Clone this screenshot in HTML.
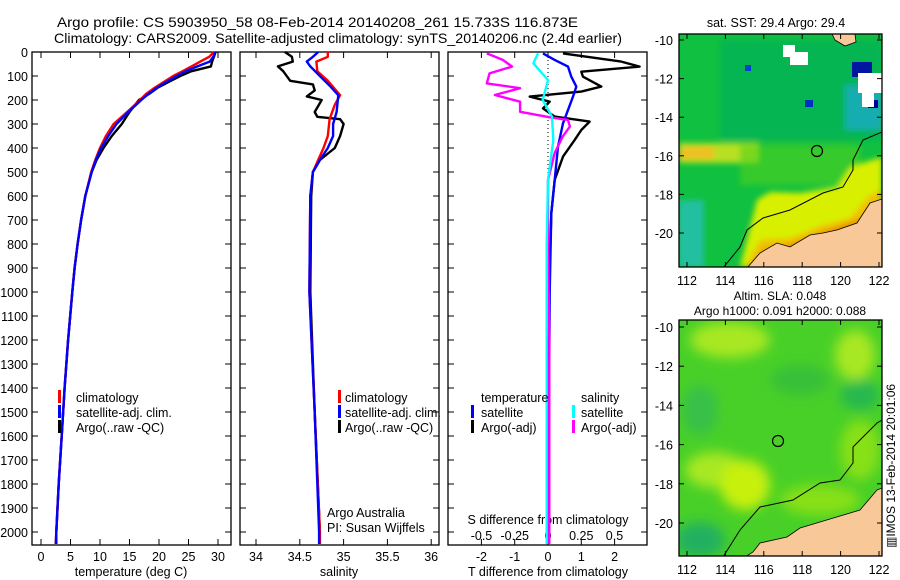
<!DOCTYPE html>
<html><head><meta charset="utf-8"><style>
html,body{margin:0;padding:0;background:#fff;}
svg{display:block;font-family:"Liberation Sans",sans-serif;}
</style></head><body>
<svg id="c" width="900" height="580" viewBox="0 0 900 580" xmlns="http://www.w3.org/2000/svg">
<text x="57" y="27" font-size="14" textLength="521" lengthAdjust="spacingAndGlyphs">Argo profile: CS 5903950_58 08-Feb-2014 20140208_261 15.733S 116.873E</text>
<text x="54" y="43" font-size="14" textLength="568" lengthAdjust="spacingAndGlyphs">Climatology: CARS2009. Satellite-adjusted climatology: synTS_20140206.nc (2.4d earlier)</text>
<text x="776" y="27" font-size="12.5" text-anchor="middle">sat. SST: 29.4  Argo: 29.4</text>
<text x="780" y="300" font-size="12" text-anchor="middle">Altim. SLA: 0.048</text>
<text x="780" y="315" font-size="12" text-anchor="middle">Argo h1000: 0.091 h2000: 0.088</text>
<text transform="translate(895,548) rotate(-90)" font-size="12">▥IMOS 13-Feb-2014 20:01:06</text>
<g id="maps"></g>
<g id="plots"></g>
</svg>
<script>
// ---- data ----
const depthTicks = [0,100,200,300,400,500,600,700,800,900,1000,1100,1200,1300,1400,1500,1600,1700,1800,1900,2000];
const tempTicks = [0,5,10,15,20,25,30];
const salTicks = [34,34.5,35,35.5,36];
const tdiffTicks = [-2,-1,0,1,2];
const sdiffTicks = [-0.5,-0.25,0,0.25,0.5];
const sdiffTickLabels = ["-0.5","-0.25","0","0.25","0.5"];

const tDepth = [0,20,40,60,80,100,125,150,175,200,250,300,350,400,450,500,600,700,800,900,1000,1200,1400,1600,1800,2000,2050];
const tempClim = [29.3,28.5,27,25.5,24,22.4,20.8,19.2,17.8,16.8,14.6,12.3,11.0,10.0,9.2,8.5,7.5,6.8,6.2,5.7,5.3,4.6,4.0,3.5,3.0,2.6,2.5];
const tempSat = [29.5,29.2,28.6,26.5,24.5,23,21.2,19.6,18.2,17,14.8,12.8,11.4,10.2,9.3,8.6,7.5,6.8,6.2,5.7,5.3,4.6,4.0,3.5,3.0,2.6,2.5];
const tempArgo = [29.6,29.3,29.0,28.8,25.5,23.6,21.6,19.7,18.3,16.6,15.0,13.7,12.0,10.6,9.4,8.6,7.5,6.8,6.2,5.7,5.3,4.6,4.0,3.5,3.0,2.6,2.6];

const sArgoDepth = [0,20,40,60,80,120,135,160,185,200,250,270,280,300,350,400,450,500,600,1000,1500,2000];
const salArgo = [34.33,34.41,34.42,34.25,34.31,34.39,34.65,34.67,34.58,34.75,34.67,34.70,34.96,35.0,34.96,34.9,34.73,34.65,34.63,34.62,34.67,34.73];
const sClimDepth = [0,20,40,80,120,180,220,280,350,400,450,500,600,1000,1500,2000,2050];
const salClim = [34.82,34.82,34.69,34.70,34.82,34.96,34.9,34.84,34.82,34.77,34.71,34.65,34.62,34.61,34.67,34.73,34.73];
const sSatDepth = [0,20,40,60,100,140,180,250,300,350,400,450,500,600,1000,1500,2000,2050];
const salSat = [34.71,34.65,34.58,34.62,34.73,34.84,34.94,34.92,34.88,34.88,34.82,34.73,34.65,34.62,34.61,34.67,34.72,34.72];

const tdArgoDepth = [6,40,61,82,103,144,165,186,207,235,269,290,325,367,436,533,672,900,1200,1600,2000];
const tdiffArgo = [0.45,2.2,2.75,1.0,1.05,1.6,1.0,-0.55,0.05,-0.15,0.2,1.25,1.0,0.8,0.45,0.2,0.1,0.05,0.02,0.0,-0.02];
const tdSatDepth = [6,33,61,103,144,186,242,297,394,533,672,1000,1500,2050];
const tdiffSat = [-0.15,0.2,0.6,0.7,0.85,0.75,0.6,0.45,0.3,0.2,0.1,0.05,0.03,0.02];
const sdArgoDepth = [6,33,61,89,131,151,179,207,249,272,283,311,353,422,533,800,1200,1600,2050];
const sdiffArgo = [-0.46,-0.34,-0.27,-0.44,-0.46,-0.21,-0.4,-0.21,-0.21,0.015,0.15,0.165,0.11,0.05,0.0,0.0,0.01,0.01,0.01];
const sdSatDepth = [6,47,117,200,269,367,533,800,1200,1600,2050];
const sdiffSat = [-0.075,-0.11,0.0,-0.04,0.03,0.04,0.0,-0.01,-0.01,-0.01,-0.01];

const mapLonTicks = [112,114,116,118,120,122];
const mapLatTicks = [-10,-12,-14,-16,-18,-20];

// ---- helpers ----
const NS = "http://www.w3.org/2000/svg";
const plots = document.getElementById('plots');
const maps = document.getElementById('maps');
function mk(tag, attrs, parent){ const e=document.createElementNS(NS,tag); for(const k in attrs) e.setAttribute(k,attrs[k]); (parent||plots).appendChild(e); return e; }
const yD = d => 52 + d*0.24;
const PT = 52, PB = 545;

function panel(x0,x1,name){
  const r = mk('rect',{x:x0,y:PT,width:x1-x0,height:PB-PT,fill:'none',stroke:'#000','stroke-width':1.3});
  
  
  depthTicks.forEach(d=>{
    const y=yD(d);
    const t1=mk('line',{x1:x0,x2:x0+6,y1:y,y2:y,stroke:'#000'});
    
    
    const t2=mk('line',{x1:x1-6,x2:x1,y1:y,y2:y,stroke:'#000'});
    
    
  });
}
function xticks(vals,sx,name,labels,ly){
  vals.forEach((v,i)=>{
    const x=sx(v);
    const a=mk('line',{x1:x,x2:x,y1:PT,y2:PT+6,stroke:'#000'});
    
    
    const b=mk('line',{x1:x,x2:x,y1:PB-6,y2:PB,stroke:'#000'});
    
    
    if(labels){
      const t=mk('text',{x:x,y:ly,'font-size':12.5,'text-anchor':'middle'});
      t.textContent=labels[i];
      
      
    }
  });
}
function line(vals,depths,sx,color,name,w){
  const pts=vals.map((v,i)=>sx(v).toFixed(1)+','+yD(depths[i]).toFixed(1)).join(' ');
  const p=mk('polyline',{points:pts,fill:'none',stroke:color,'stroke-width':w||2.4,'stroke-linejoin':'round'});
  
  
}
function txt(x,y,s,name,anchor,size){
  const t=mk('text',{x:x,y:y,'font-size':size||12.5,'text-anchor':anchor||'start'});
  t.textContent=s;
  
  
  return t;
}
function bar(x,y,color,name){
  const r=mk('rect',{x:x,y:y-10,width:3,height:13,fill:color});
  
  
}

depthTicks.forEach(d=>{
  const t=mk('text',{x:28,y:yD(d)+5,'font-size':12.5,'text-anchor':'end'});
  t.textContent=String(d);
  
  
});

// Panel 1: temperature
const sxT = v => 41 + v*5.9;
panel(32,231,'temperature-panel');
xticks(tempTicks,sxT,'temperature',tempTicks.map(String),561);
txt(131,576,'temperature (deg C)','temperature-axis-title','middle');
line(tempArgo,tDepth,sxT,'#000','temp-argo-line');
line(tempClim,tDepth,sxT,'#ff0000','temp-climatology-line');
line(tempSat,tDepth,sxT,'#0000ff','temp-satellite-line');
bar(58,400,'#ff0000','legend-climatology-swatch'); txt(76,402,'climatology','legend-climatology');
bar(58,415,'#0000ff','legend-satellite-swatch'); txt(76,417,'satellite-adj. clim.','legend-satellite');
bar(58,430,'#000','legend-argo-swatch'); txt(76,432,'Argo(..raw -QC)','legend-argo');

// Panel 2: salinity
const sxS = v => 256 + (v-34)*87.6;
panel(240,439,'salinity-panel');
xticks(salTicks,sxS,'salinity',salTicks.map(String),561);
txt(339,576,'salinity','salinity-axis-title','middle');
line(salArgo,sArgoDepth,sxS,'#000','sal-argo-line');
line(salClim,sClimDepth,sxS,'#ff0000','sal-climatology-line');
line(salSat,sSatDepth,sxS,'#0000ff','sal-satellite-line');
bar(338,400,'#ff0000','legend2-climatology-swatch'); txt(345,402,'climatology','legend2-climatology');
bar(338,415,'#0000ff','legend2-satellite-swatch'); txt(345,417,'satellite-adj. clim.','legend2-satellite');
bar(338,430,'#000','legend2-argo-swatch'); txt(345,432,'Argo(..raw -QC)','legend2-argo');
txt(327,517,'Argo Australia','argo-australia-label');
txt(327,532,'PI: Susan Wijffels','pi-label');

// Panel 3: differences
const sxTd = v => 548 + v*33.3;
const sxSd = v => 548 + v*133;
panel(448,647,'difference-panel');
xticks(tdiffTicks,sxTd,'tdiff',tdiffTicks.map(String),561);
sdiffTicks.forEach((v,i)=>{ txt(sxSd(v),540,sdiffTickLabels[i],'sdiff-tick-label','middle'); });
txt(548,524,'S difference from climatology','sdiff-axis-title','middle');
txt(548,576,'T difference from climatology','tdiff-axis-title','middle');
const zl=mk('line',{x1:548,x2:548,y1:PT,y2:PB,stroke:'#000','stroke-dasharray':'1,3'});


line(tdiffArgo,tdArgoDepth,sxTd,'#000','tdiff-argo-line');
line(tdiffSat,tdSatDepth,sxTd,'#0000ff','tdiff-satellite-line');
line(sdiffArgo,sdArgoDepth,sxSd,'#ff00ff','sdiff-argo-line');
line(sdiffSat,sdSatDepth,sxSd,'#00ffff','sdiff-satellite-line');
txt(481,402,'temperature','legend3-temperature-header');
bar(471,415,'#0000ff','legend3-tsat-swatch'); txt(481,417,'satellite','legend3-tsat');
bar(471,430,'#000','legend3-targo-swatch'); txt(481,432,'Argo(-adj)','legend3-targo');
txt(581,402,'salinity','legend3-salinity-header');
bar(572,415,'#00ffff','legend3-ssat-swatch'); txt(581,417,'satellite','legend3-ssat');
bar(572,430,'#ff00ff','legend3-sargo-swatch'); txt(581,432,'Argo(-adj)','legend3-sargo');

// ---- maps ----
function mapAxes(y0,y1,lat0y,latStep,name){
  const L=679,R=882;
  const sx = lon => 687 + (lon-112)*19.2;
  const sy = lat => lat0y + (-10-lat)*latStep;
  const fr=mk('rect',{x:L,y:y0,width:R-L,height:y1-y0,fill:'none',stroke:'#000','stroke-width':1.3},maps);
  
  
  mapLonTicks.forEach(v=>{
    const x=sx(v);
    const t=mk('text',{x:x,y:y1+18,'font-size':12.5,'text-anchor':'middle'},maps);
    t.textContent=String(v);
    
    
    mk('line',{x1:x,x2:x,y1:y1,y2:y1-5,stroke:'#000'},maps);
    mk('line',{x1:x,x2:x,y1:y0,y2:y0+5,stroke:'#000'},maps);
  });
  mapLatTicks.forEach(v=>{
    const y=sy(v);
    const t=mk('text',{x:673,y:y+5,'font-size':12.5,'text-anchor':'end'},maps);
    t.textContent=String(v);
    
    
    mk('line',{x1:L,x2:L+5,y1:y,y2:y,stroke:'#000'},maps);
    mk('line',{x1:R-5,x2:R,y1:y,y2:y,stroke:'#000'},maps);
  });
}
const defs=mk('defs',{},maps);
defs.innerHTML='<filter id="bl" x="-20%" y="-20%" width="140%" height="140%"><feGaussianBlur stdDeviation="6"/></filter><filter id="bl2"><feGaussianBlur stdDeviation="3"/></filter><clipPath id="m1"><rect x="679" y="34" width="203" height="233"/></clipPath><clipPath id="m2"><rect x="679" y="320" width="203" height="236"/></clipPath>';

// Map 1: SST
const g1=mk('g',{'clip-path':'url(#m1)'},maps);


g1.innerHTML=`
<rect x="679" y="34" width="203" height="233" fill="#10c040"/>
<g filter="url(#bl2)">
<rect x="720" y="40" width="162" height="100" fill="#08b058" opacity="0.7"/>
<rect x="679" y="200" width="25" height="67" fill="#20c0a0"/>
<rect x="679" y="143" width="80" height="20" fill="#b8e020"/>
<rect x="679" y="147" width="35" height="12" fill="#f0c020"/>
<rect x="740" y="145" width="120" height="40" fill="#50d020" opacity="0.6"/>
<polygon points="740,267 757,200 770,192 800,193 837,187 850,167 882,157 882,267" fill="#d8f000"/>
<polygon points="745,267 760,240 790,238 823,225 850,218 870,195 882,190 882,267" fill="#f0c000"/>
<polygon points="750,267 765,250 790,245 823,232 860,220 882,205 882,267" fill="#e08000"/>
<rect x="845" y="85" width="37" height="45" fill="#20a8d8" opacity="0.7"/>
</g>
<rect x="852" y="62" width="20" height="15" fill="#0018a0"/>
<rect x="868" y="100" width="10" height="8" fill="#000090"/>
<rect x="805" y="100" width="8" height="7" fill="#0030c0"/>
<rect x="745" y="65" width="6" height="6" fill="#0040d0"/>
<rect x="783" y="45" width="12" height="12" fill="#fff"/>
<rect x="790" y="52" width="18" height="13" fill="#fff"/>
<rect x="858" y="73" width="24" height="20" fill="#fff"/>
<rect x="862" y="93" width="12" height="14" fill="#fff"/>
<polygon points="832,34 855,34 856,42 845,46 835,40" fill="#f8c898" stroke="#000" stroke-width="0.8"/>
<polygon points="747,268 760,253 777,243 790,247 810,235 823,233 837,230 857,223 870,203 882,199 882,268" fill="#f8c898" stroke="#000" stroke-width="0.8"/>
<polyline points="723,268 740,247 747,230 763,218 790,210 823,193 843,187 853,170 853,160 863,140 882,132" fill="none" stroke="#000" stroke-width="1"/>
<circle cx="817" cy="151" r="5.5" fill="none" stroke="#000" stroke-width="1.2"/>`;
mapAxes(34,267,40,19.3,'sst-map');

// Map 2: SLA
const g2=mk('g',{'clip-path':'url(#m2)'},maps);


g2.innerHTML=`
<rect x="679" y="320" width="203" height="236" fill="#48d028"/>
<g filter="url(#bl)">
<ellipse cx="730" cy="340" rx="40" ry="18" fill="#a8e820"/>
<ellipse cx="855" cy="355" rx="20" ry="25" fill="#a8e820"/>
<ellipse cx="800" cy="380" rx="30" ry="15" fill="#38c038"/>
<ellipse cx="715" cy="470" rx="30" ry="18" fill="#a8e820"/>
<ellipse cx="745" cy="485" rx="25" ry="25" fill="#c8f010"/>
<ellipse cx="700" cy="410" rx="18" ry="25" fill="#38c048"/>
<ellipse cx="700" cy="540" rx="25" ry="18" fill="#20b060"/>
<ellipse cx="860" cy="450" rx="20" ry="30" fill="#88e018"/>
<ellipse cx="820" cy="500" rx="40" ry="15" fill="#88e018"/>
<ellipse cx="860" cy="395" rx="20" ry="15" fill="#28b850"/>
</g>
<polygon points="877,490 860,510 820,522 800,528 787,537 760,543 753,552 745,557 882,557 882,488" fill="#f8c898" stroke="#000" stroke-width="0.8"/>
<polyline points="882,420 877,423 853,447 853,463 840,480 820,483 793,500 760,507 740,530 723,557" fill="none" stroke="#000" stroke-width="1"/>
<circle cx="778" cy="441" r="5.5" fill="none" stroke="#000" stroke-width="1.2"/>`;
mapAxes(320,556,327,19.6,'sla-map');
</script>
</body></html>
